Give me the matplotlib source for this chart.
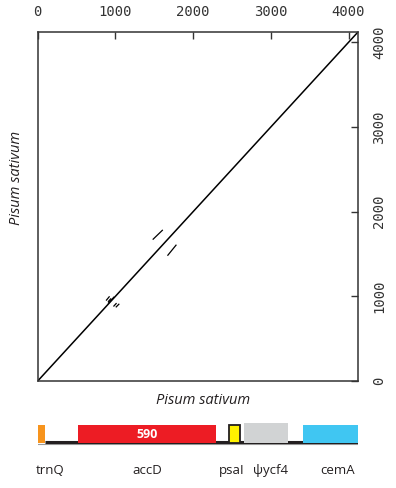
import matplotlib
matplotlib.use("Agg")
import matplotlib.pyplot as plt
from matplotlib.patches import Rectangle

# ---- data ----
seq_len = 4122
ticks = [0, 1000, 2000, 3000, 4000]
tick_labels = ["0", "1000", "2000", "3000", "4000"]

# main diagonal and off-diagonal repeat matches (x0, x1, y0, y1)
diag = (0, 4122, 0, 4122)
repeats = [
    (1480, 1610, 1670, 1785),
    (1670, 1785, 1480, 1610),
    (880, 925, 950, 1000),
    (905, 945, 935, 975),
    (975, 1015, 880, 920),
    (1005, 1050, 870, 912),
    (905, 985, 915, 995),
]

gene_names = ["trnQ", "accD", "psaI", "ψycf4", "cemA"]
gene_start = [0, 515, 2462, 2659, 3411]
gene_end = [94, 2295, 2604, 3225, 4118]
gene_colors = ["#f7941d", "#ed1c24", "#fff200", "#d1d3d4", "#40c6f2"]
accD_label = "590"
backbone = (94, 4122)

# ---- layout ----
W, H = 396, 488
fig = plt.figure(figsize=(W / 100, H / 100), dpi=100)
L, R, T, B = 37.7, 358, 32, 381
ax = fig.add_axes([L / W, 1 - B / H, (R - L) / W, (B - T) / H])
ax.set_xlim(0, seq_len)
ax.set_ylim(0, seq_len)

ax.plot(diag[:2], diag[2:], color="black", lw=1.1, solid_capstyle="butt")
for x0, x1, y0, y1 in repeats:
    ax.plot([x0, x1], [y0, y1], color="black", lw=0.9, solid_capstyle="butt")

for s in ax.spines.values():
    s.set_color("#333333")
    s.set_linewidth(1.1)

mono = "DejaVu Sans Mono"
ax.xaxis.tick_top()
ax.yaxis.tick_right()
ax.set_xticks(ticks)
ax.set_xticklabels(tick_labels, fontfamily=mono, fontsize=10, color="#333333")
ax.set_yticks(ticks)
ax.set_yticklabels(tick_labels, fontfamily=mono, fontsize=10, color="#333333")
ax.tick_params(axis="x", direction="in", length=5, width=1, colors="#333333", pad=9)
ax.tick_params(axis="y", direction="in", length=5, width=1, colors="#333333", pad=10,
               labelrotation=90)
for lab in ax.get_yticklabels():
    lab.set_va("center")

lab_font = ["Open Sans", "DejaVu Sans"]
fig.text(203 / W, 1 - 400 / H, "Pisum sativum", style="italic", fontsize=10.5,
         family=lab_font, ha="center", va="center", color="#231f20")
fig.text(17 / W, 1 - 178 / H, "Pisum sativum", style="italic", fontsize=10.5,
         family=lab_font, ha="center", va="center", rotation=90, color="#231f20")

# ---- gene map ----
gy0, gy1 = 415, 450
gax = fig.add_axes([L / W, 1 - gy1 / H, (R - L) / W, (gy1 - gy0) / H])
gax.set_xlim(0, seq_len)
gax.set_ylim(gy1, gy0)
gax.axis("off")

gax.plot([0, seq_len], [443.5, 443.5], color="#9a9a9a", lw=0.8, zorder=1)
gax.plot(backbone, [442, 442], color="#231f20", lw=2.2, solid_capstyle="butt", zorder=2)

tops = [425, 425, 424.7, 423.3, 425]
for name, s, e, c, tp in zip(gene_names, gene_start, gene_end, gene_colors, tops):
    if name == "psaI":
        gax.add_patch(Rectangle((s, tp), e - s, 443 - tp, facecolor=c,
                                edgecolor="#231f20", lw=1.3, zorder=3))
    else:
        gax.add_patch(Rectangle((s, tp), e - s, 443 - tp, facecolor=c,
                                edgecolor="none", zorder=3))
gax.text((gene_start[1] + gene_end[1]) / 2, 434.5, accD_label, color="white",
         fontweight="bold", fontsize=9, ha="center", va="center",
         family=lab_font, zorder=4)

label_x = [158, 1407, 2501, 2990, 3865]
lax = fig.add_axes([L / W, 0, (R - L) / W, 1 - gy1 / H])
lax.set_xlim(0, seq_len)
lax.set_ylim(H, gy1)
lax.axis("off")
for name, lx in zip(gene_names, label_x):
    lax.text(lx, 471, name, fontsize=9.5, family=lab_font, ha="center",
             va="center", color="#231f20")

fig.savefig("out.png", dpi=100)
